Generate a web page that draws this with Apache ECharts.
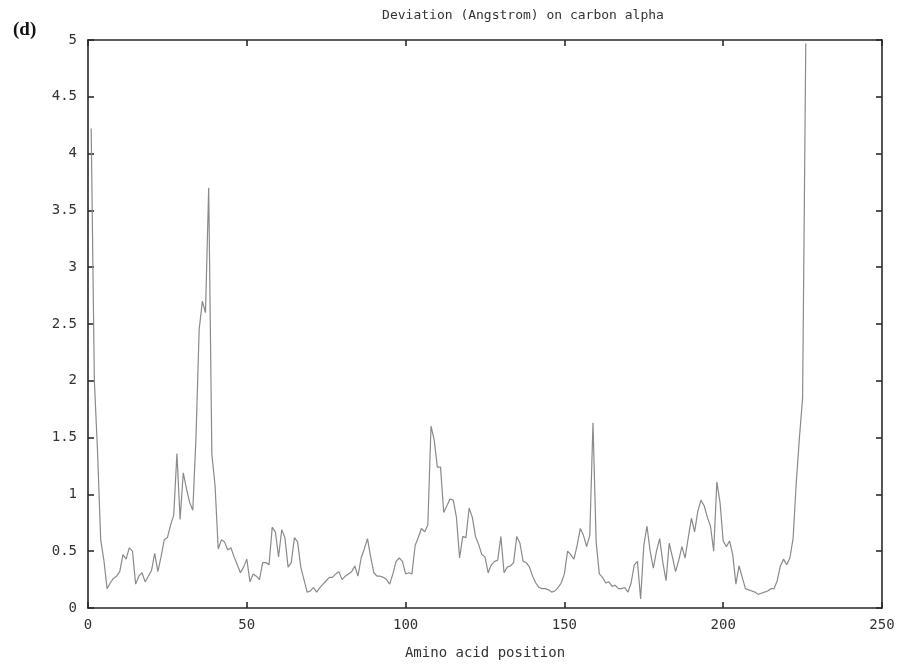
<!DOCTYPE html>
<html>
<head>
<meta charset="utf-8">
<script src="https://cdn.jsdelivr.net/npm/echarts@6/dist/echarts.min.js"></script>
<style>
html,body{margin:0;padding:0;background:#fff;}
#chart{width:906px;height:665px;}
</style>
</head>
<body>
<div id="chart"></div>
<script>
const chartTitle = 'Deviation (Angstrom) on carbon alpha';
const panelLabel = '(d)';
const xAxisTitle = 'Amino acid position';
const xTicks = [0, 50, 100, 150, 200, 250];
const yTicks = [0, 0.5, 1, 1.5, 2, 2.5, 3, 3.5, 4, 4.5, 5];
const firstResidue = 1;
// deviation per residue (Angstrom), residues 1..226
const deviation = [
  4.22, 2.00, 1.38, 0.60, 0.42, 0.17, 0.22, 0.26, 0.28, 0.32,
  0.47, 0.43, 0.53, 0.50, 0.21, 0.28, 0.31, 0.23, 0.28, 0.33,
  0.48, 0.32, 0.45, 0.60, 0.62, 0.73, 0.82, 1.36, 0.78, 1.19,
  1.05, 0.93, 0.86, 1.50, 2.45, 2.70, 2.60, 3.70, 1.35, 1.08,
  0.52, 0.60, 0.58, 0.51, 0.53, 0.45, 0.38, 0.31, 0.36, 0.43,
  0.23, 0.30, 0.28, 0.25, 0.40, 0.40, 0.38, 0.71, 0.67, 0.45,
  0.69, 0.62, 0.36, 0.40, 0.62, 0.58, 0.36, 0.25, 0.14, 0.15,
  0.18, 0.14, 0.18, 0.21, 0.24, 0.27, 0.27, 0.30, 0.32, 0.25,
  0.28, 0.30, 0.32, 0.37, 0.28, 0.44, 0.52, 0.61, 0.45, 0.31,
  0.28, 0.28, 0.27, 0.25, 0.21, 0.30, 0.41, 0.44, 0.41, 0.30,
  0.31, 0.30, 0.55, 0.62, 0.70, 0.67, 0.73, 1.60, 1.48, 1.24,
  1.24, 0.84, 0.90, 0.96, 0.95, 0.80, 0.44, 0.63, 0.62, 0.88,
  0.80, 0.63, 0.56, 0.47, 0.45, 0.31, 0.38, 0.41, 0.42, 0.63,
  0.31, 0.36, 0.37, 0.40, 0.63, 0.57, 0.41, 0.40, 0.36, 0.28,
  0.22, 0.18, 0.17, 0.17, 0.16, 0.14, 0.15, 0.18, 0.22, 0.30,
  0.50, 0.47, 0.43, 0.55, 0.70, 0.64, 0.54, 0.64, 1.63, 0.58,
  0.30, 0.27, 0.22, 0.23, 0.19, 0.20, 0.17, 0.17, 0.18, 0.14,
  0.22, 0.38, 0.41, 0.08, 0.55, 0.72, 0.50, 0.35, 0.50, 0.61,
  0.40, 0.24, 0.57, 0.45, 0.32, 0.42, 0.54, 0.44, 0.62, 0.79,
  0.67, 0.85, 0.95, 0.90, 0.80, 0.72, 0.50, 1.11, 0.93, 0.59,
  0.54, 0.59, 0.47, 0.21, 0.37, 0.27, 0.17, 0.16, 0.15, 0.14,
  0.12, 0.13, 0.14, 0.15, 0.17, 0.17, 0.24, 0.37, 0.43, 0.38,
  0.44, 0.61, 1.10, 1.50, 1.85, 4.97
];

const seriesData = deviation.map((v, i) => [firstResidue + i, v]);
const mono = 'DejaVu Sans Mono';
const axisColor = '#2a2a2a';
const textColor = '#333';

const chart = echarts.init(document.getElementById('chart'), null, {renderer: 'canvas'});
const commonX = {
  type: 'value', min: xTicks[0], max: xTicks[xTicks.length - 1], interval: 50,
  splitLine: {show: false},
  axisLine: {show: true, onZero: false, lineStyle: {color: axisColor, width: 1.6}},
  axisTick: {show: true, inside: true, length: 6, lineStyle: {color: axisColor, width: 1.6}}
};
const commonY = {
  type: 'value', min: yTicks[0], max: yTicks[yTicks.length - 1], interval: 0.5,
  splitLine: {show: false},
  axisLine: {show: true, onZero: false, lineStyle: {color: axisColor, width: 1.6}},
  axisTick: {show: true, inside: true, length: 6, lineStyle: {color: axisColor, width: 1.6}}
};
chart.setOption({
  animation: false,
  backgroundColor: '#fff',
  title: [
    {text: chartTitle, left: 518, top: 4, textAlign: 'center',
     textStyle: {fontFamily: mono, fontSize: 13, fontWeight: 'normal', color: textColor}},
    {text: panelLabel, left: 8, top: 16,
     textStyle: {fontFamily: 'Liberation Serif', fontSize: 19, fontWeight: 'bold', color: '#111'}}
  ],
  grid: {left: 88, right: 24, top: 40, bottom: 51, containLabel: false},
  xAxis: [
    Object.assign({}, commonX, {position: 'bottom',
      name: xAxisTitle, nameLocation: 'middle', nameGap: 38,
      nameTextStyle: {fontFamily: mono, fontSize: 14, color: textColor},
      axisLabel: {show: true, margin: 10, fontFamily: mono, fontSize: 14, color: textColor}}),
    Object.assign({}, commonX, {position: 'top', axisLabel: {show: false}})
  ],
  yAxis: [
    Object.assign({}, commonY, {position: 'left',
      axisLabel: {show: true, margin: 11, fontFamily: mono, fontSize: 14, color: textColor}}),
    Object.assign({}, commonY, {position: 'right', axisLabel: {show: false}})
  ],
  series: [{
    type: 'line', data: seriesData, showSymbol: false, symbol: 'none',
    xAxisIndex: 0, yAxisIndex: 0,
    lineStyle: {color: '#8a8a8a', width: 1.2}
  }]
});
</script>
</body>
</html>
